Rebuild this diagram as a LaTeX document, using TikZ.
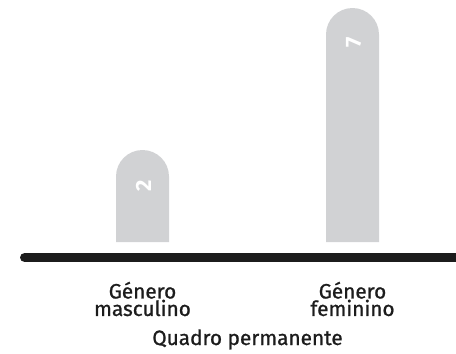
\documentclass[tikz,border=0pt]{standalone}
\usepackage{fontspec}
\setmainfont{Fira Sans}[FakeBold=1]
\newfontfamily\pesado{Fira Sans}
\definecolor{cinzabarra}{HTML}{D1D2D4}
\definecolor{escuro}{HTML}{1C1C1C}
\begin{document}
\begin{tikzpicture}[x=1pt, y=-1pt,
    barra/.style={fill=cinzabarra},
    valor/.style={rotate=90, text=white, inner sep=0pt, font=\pesado\bfseries\fontsize{22}{22}\selectfont},
    rotulo/.style={align=center, text=escuro, inner sep=0pt, font=\fontsize{20.8}{15.5}\selectfont}]
            \useasboundingbox (0,0) rectangle (456,354);
            % barras
            \fill[barra] (116,242) -- (116,176.5) arc[start angle=180, end angle=360, radius=26.5] -- (169,242) -- cycle;
            \fill[barra] (326,242) -- (326,34.5) arc[start angle=180, end angle=360, radius=26.5] -- (379,242) -- cycle;
            \node[valor] (v1) at (143.5,186) {2};
            \node[valor] (v2) at (353.5,42) {7};
            % eixo
            \draw[escuro, line width=9.5pt, line cap=round] (24.75,257.5) -- (470,257.5);
            \node[rotulo] (m) at (142.5,299) {Género\\masculino};
            \node[rotulo] (f) at (352.5,299) {Género\\feminino};
            \node[rotulo, anchor=base] (q) at (247.5,345) {Quadro permanente};
\end{tikzpicture}
\end{document}
